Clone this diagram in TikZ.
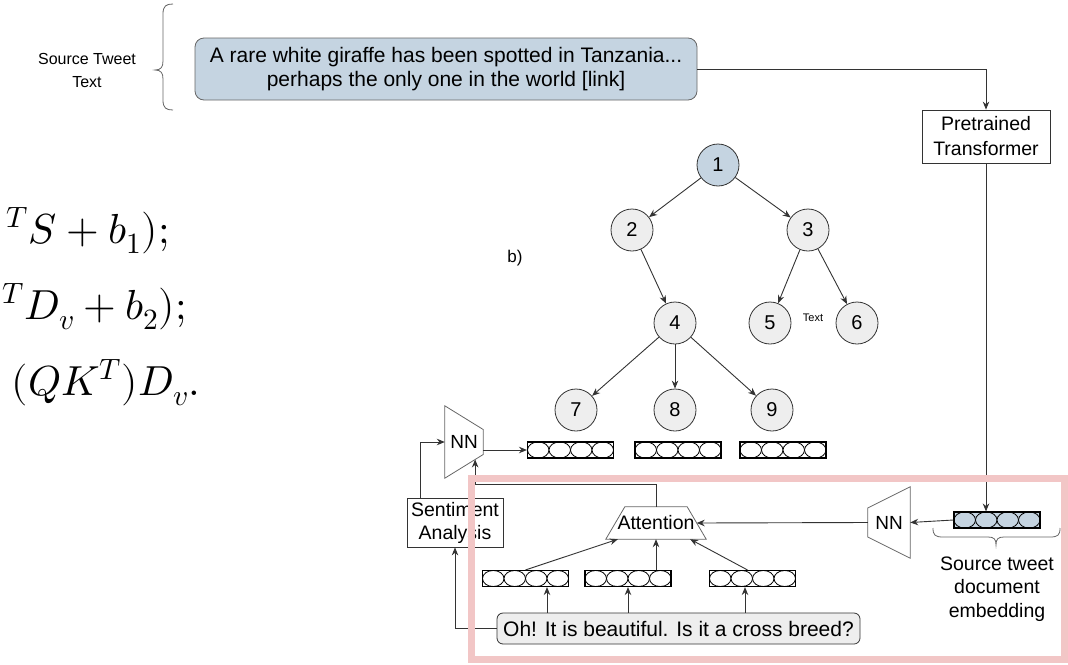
\documentclass[tikz,border=0pt]{standalone}
\usepackage{fontspec}
\usepackage{unicode-math}
\setmainfont{Liberation Sans}
\setmathfont{Latin Modern Math}
\usetikzlibrary{arrows.meta,calc}
\definecolor{steel}{HTML}{C5D4E1}
\definecolor{nodegray}{HTML}{EEEEEE}
\definecolor{ink}{HTML}{333333}
\definecolor{edgegray}{HTML}{666666}
\definecolor{framepink}{HTML}{F2C6C6}
\newcommand{\fs}[2]{\fontsize{#1}{#2}\selectfont}
\begin{document}
\begin{tikzpicture}[x=1pt,y=-1pt,
  every node/.style={font=\fs{19.5}{23}, text=black},
  arr/.style={-{Stealth[length=8pt,width=6.5pt]}, draw=ink, line width=0.9pt},
  circ/.style={circle, draw=ink, fill=nodegray, minimum size=42pt, inner sep=0pt, line width=0.8pt, font=\fs{20}{22}},
  plainbox/.style={draw=ink, fill=white, line width=0.8pt, align=center, inner sep=0pt},
  holder/.style={inner sep=0pt, align=center},
  vecbox/.style={draw=black, line width=1.1pt, fill=#1, minimum width=86pt, minimum height=16pt, inner sep=0pt,
    path picture={
      \foreach \k in {1,3,5,7}{
        \draw[line width=0.8pt, fill=#1]
          ($(path picture bounding box.west)!{\k/8}!(path picture bounding box.east)$)
          ellipse [x radius=10.75pt, y radius=8pt];
      }}},
  vecbox/.default=white,
  bracepath/.style={draw=edgegray, line width=0.8pt},
  eqline/.style={anchor=base east, inner sep=0pt, font=\fs{42}{48}}
]
\useasboundingbox (0,0) rectangle (1068,664);

% ---- left: cut-off equations ----
\node[eqline] (eq1) at (170,243) {${}^{T}S + b_1);$};
\node[eqline] (eq2) at (187,319) {${}^{T}D_v + b_2);$};
\node[eqline] (eq3) at (200,395) {$(QK^T)D_v.$};

% ---- source tweet ----
\node[holder, font=\fs{16}{23}] (srclabel) at (87,70) {Source Tweet\\Text};
\draw[bracepath] (173,4) .. controls (166,4) and (163,6) .. (163,14) -- (163,61)
  .. controls (163,67) and (161,70) .. (155,70)
  .. controls (161,70) and (163,73) .. (163,79) -- (163,100)
  .. controls (163,108) and (166,110) .. (173,110);
\node[draw=edgegray, fill=steel, line width=0.8pt, rounded corners=9pt, minimum width=502pt, minimum height=62pt,
  align=center, font=\fs{21}{24}] (tweet) at (446,69)
  {A rare white giraffe has been spotted in Tanzania...\\perhaps the only one in the world [link]};

\node[plainbox, minimum width=128pt, minimum height=53pt, font=\fs{19.5}{25}] (pt) at (986,136.5) {Pretrained\\Transformer};

% ---- tree ----
\node[circ, fill=steel] (n1) at (718,165) {1};
\node[circ] (n2) at (632,230) {2};
\node[circ] (n3) at (808,230) {3};
\node[circ] (n4) at (675,323) {4};
\node[circ] (n5) at (770,323) {5};
\node[circ] (n6) at (857,323) {6};
\node[circ] (n7) at (576,410) {7};
\node[circ] (n8) at (675,410) {8};
\node[circ] (n9) at (772,410) {9};
\node[font=\fs{11}{13}] (tlabel) at (813,318) {Text};
\node[font=\fs{17}{20}] (blabel) at (515,258) {b)};

\foreach \a/\b in {n1/n2, n1/n3, n2/n4, n3/n5, n3/n6, n4/n7, n4/n8, n4/n9}
  \draw[arr] (\a) -- (\b);

\node[vecbox] (v7) at (570.5,450) {};
\node[vecbox] (v8) at (678,450) {};
\node[vecbox] (v9) at (783,450) {};

% ---- left NN ----
\node[holder, minimum width=38pt, minimum height=72pt, font=\fs{19}{22}] (nn1) at (464,442) {NN};
\coordinate (nn1tr) at ($(nn1.east)+(0,-12.5)$);
\coordinate (nn1br) at ($(nn1.east)+(0,12.5)$);
\draw[draw=edgegray, line width=0.8pt] (nn1.north west) -- (nn1.south west) -- (nn1br) -- (nn1tr) -- cycle;
\coordinate (nn1in) at ($(nn1.south west)!0.79!(nn1br)$);

\node[plainbox, minimum width=96pt, minimum height=49pt, font=\fs{19.5}{23}] (sent) at (455,522.5) {Sentiment\\Analysis};
\coordinate (sentout) at ($(sent.north)+(-35,0)$);

% ---- attention block ----
\node[holder, minimum width=100pt, minimum height=32pt] (att) at (656,523) {Attention};
\draw[draw=edgegray, line width=0.8pt] (att.south west) -- (att.south east)
  -- ($(att.north east)+(-19,0)$) -- ($(att.north west)+(19,0)$) -- cycle;
\coordinate (atte) at ($(att.east)+(-9.5,0)$);
\coordinate (attA) at ($(att.south west)!0.12!(att.south east)$);
\coordinate (attC) at ($(att.south west)!0.84!(att.south east)$);

\node[vecbox] (va) at (525.5,578.5) {};
\node[vecbox] (vb) at (628,578.5) {};
\node[vecbox] (vc) at (752.5,578.5) {};
\coordinate (vain) at ($(va.south)+(21.5,0)$);
\coordinate (vcin) at ($(vc.south)+(-7.5,0)$);
\coordinate (vcout) at ($(vc.north)+(-5,0)$);

\node[draw=ink, fill=nodegray, line width=0.8pt, rounded corners=6pt, minimum width=363pt, minimum height=31pt,
  inner sep=0pt, font=\fs{21}{24}] (comment) at (678.5,628.5) {Oh! It is beautiful. Is it a cross breed?};

% ---- right NN and source embedding ----
\node[holder, minimum width=42pt, minimum height=71pt, font=\fs{19}{22}] (nn2) at (889,522.5) {NN};
\draw[draw=edgegray, line width=0.8pt] (nn2.north east) -- (nn2.south east)
  -- ($(nn2.west)+(0,14.5)$) -- ($(nn2.west)+(0,-14.5)$) -- cycle;

\node[vecbox=steel] (semb) at (997,520) {};
\draw[bracepath] (933,528) .. controls (933,535) and (935,537) .. (943,537) -- (988,537)
  .. controls (994,537) and (996,539) .. (996,545)
  .. controls (996,539) and (998,537) .. (1004,537) -- (1050,537)
  .. controls (1058,537) and (1060,535) .. (1060,528);
\node[holder, font=\fs{19.5}{23.5}] (semblabel) at (997,589) {Source tweet\\document\\embedding};

% ---- connectors ----
\draw[arr] (tweet.east) -| (pt.north);
\draw[arr] (pt.south) -- (pt.south |- semb.north);
\draw[arr] (semb.west) -- (nn2.east);
\draw[arr] (nn2.west) -- (atte);
\draw[arr] (va.north) -- (attA);
\draw[arr] (att.south |- vb.north) -- (att.south);
\draw[arr] (vcout) -- (attC);
\draw[arr] (comment.north -| vain) -- (vain);
\draw[arr] (comment.north -| vb.south) -- (vb.south);
\draw[arr] (comment.north -| vcin) -- (vcin);
\draw[arr] (comment.west) -| (sent.south);
\draw[arr] (sentout) |- (nn1.west);
\draw[arr] (nn1.east |- v7.west) -- (v7.west);
\draw[arr] (att.north) -- ++(0,-22) -| (nn1in);

% ---- highlight frame ----
\draw[framepink, line width=7pt] (471,478) rectangle (1064,659);
\end{tikzpicture}
\end{document}
